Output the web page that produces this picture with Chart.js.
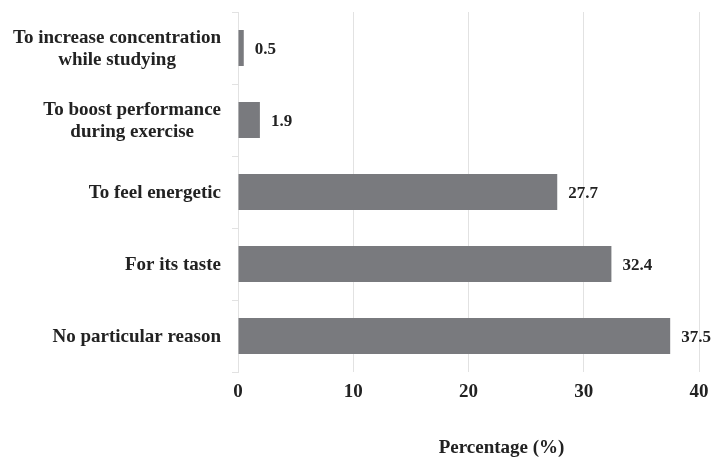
<!DOCTYPE html>
<html>
<head>
<meta charset="utf-8">
<script src="https://cdn.jsdelivr.net/npm/chart.js@4"></script>
<style>
  html, body { margin: 0; padding: 0; background: #ffffff; }
</style>
</head>
<body>
<canvas id="c" width="713" height="458"></canvas>
<script>
// Reasons for drinking, top to bottom
const reasons = [
  ["To increase concentration", "while studying"],
  ["To boost performance", "during exercise"],
  "To feel energetic",
  "For its taste",
  "No particular reason"
];
// Share of respondents (%)
const percentages = [0.5, 1.9, 27.7, 32.4, 37.5];
// Value axis ticks
const xTicks = [0, 10, 20, 30, 40];
const xAxisTitle = "Percentage (%)";

const SERIF = '"Liberation Serif", "Times New Roman", serif';
const TEXT = '#222222';
const BAR = '#797a7e';
const GRID = '#e2e2e2';

// Category labels: block right-aligned to the axis, lines centred within the block
const reasonLabels = {
  id: 'reasonLabels',
  afterDraw(chart) {
    const ys = chart.scales.y, ctx = chart.ctx;
    ctx.save();
    ctx.font = 'bold 19px ' + SERIF;
    ctx.fillStyle = TEXT;
    ctx.textAlign = 'center';
    ctx.textBaseline = 'middle';
    const right = ys.right - 17;
    const lh = 21.7;
    reasons.forEach((lab, i) => {
      const lines = Array.isArray(lab) ? lab : [lab];
      const w = Math.max(...lines.map(l => ctx.measureText(l).width));
      const cx = right - w / 2;
      const cy = ys.getPixelForValue(i) + 1;
      lines.forEach((l, k) => ctx.fillText(l, cx, cy + (k - (lines.length - 1) / 2) * lh));
    });
    ctx.restore();
  }
};

// Value printed just past the end of each bar
const barValues = {
  id: 'barValues',
  afterDatasetsDraw(chart) {
    const ctx = chart.ctx;
    const meta = chart.getDatasetMeta(0);
    ctx.save();
    ctx.font = 'bold 17px ' + SERIF;
    ctx.fillStyle = TEXT;
    ctx.textAlign = 'left';
    ctx.textBaseline = 'middle';
    meta.data.forEach((el, i) => {
      ctx.fillText(String(percentages[i]), el.x + 11, el.y + 2);
    });
    ctx.restore();
  }
};

// Value axis title
const axisTitle = {
  id: 'axisTitle',
  afterDraw(chart) {
    const ctx = chart.ctx, a = chart.chartArea;
    ctx.save();
    ctx.font = 'bold 19px ' + SERIF;
    ctx.fillStyle = TEXT;
    ctx.textAlign = 'center';
    ctx.textBaseline = 'alphabetic';
    ctx.fillText(xAxisTitle, (a.left + a.right) / 2 + 33, a.bottom + 81);
    ctx.restore();
  }
};

new Chart(document.getElementById('c'), {
  type: 'bar',
  data: {
    labels: reasons,
    datasets: [{
      data: percentages,
      backgroundColor: BAR,
      borderWidth: 0,
      barPercentage: 0.5,
      categoryPercentage: 1.0
    }]
  },
  options: {
    indexAxis: 'y',
    responsive: false,
    animation: false,
    devicePixelRatio: 1,
    layout: { padding: { top: 12, right: 14, left: 0, bottom: 0 } },
    plugins: {
      legend: { display: false },
      tooltip: { enabled: false }
    },
    scales: {
      x: {
        min: xTicks[0],
        max: xTicks[xTicks.length - 1],
        afterBuildTicks(scale) { scale.ticks = xTicks.map(v => ({ value: v })); },
        afterFit(scale) {
          scale.height = 86;
          // let the end labels overhang instead of shrinking the plot
          scale.paddingLeft = 0;
          scale.paddingRight = 0;
        },
        grid: { color: GRID, lineWidth: 1, drawTicks: false },
        border: { display: false },
        ticks: {
          padding: 9,
          color: TEXT,
          font: { family: SERIF, size: 19, weight: 'bold' }
        }
      },
      y: {
        afterFit(scale) { scale.width = 238; },
        grid: { color: GRID, lineWidth: 1, drawOnChartArea: false, drawTicks: true, tickLength: 6, offset: true },
        border: { display: true, color: GRID },
        ticks: { display: false }
      }
    }
  },
  plugins: [reasonLabels, barValues, axisTitle]
});
</script>
</body>
</html>
